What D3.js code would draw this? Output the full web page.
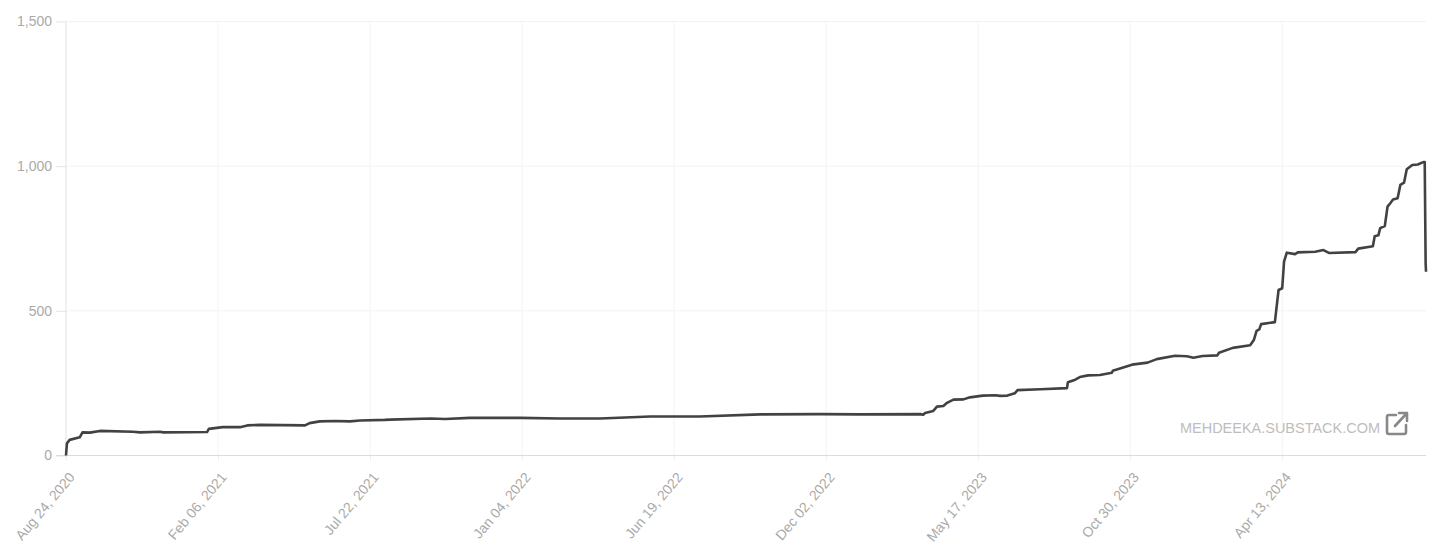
<!DOCTYPE html>
<html>
<head>
<meta charset="utf-8">
<script src="https://cdn.jsdelivr.net/npm/d3@7"></script>
<style>html,body{margin:0;padding:0;background:#fff;overflow:hidden}svg{display:block}text{font-family:"Liberation Sans",Arial,sans-serif}</style>
</head>
<body>
<svg id="chart" width="1448" height="556"></svg>
<script>
const startDate = "2020-08-24";
const dayOffsets = [0,1,4,15,18,26,37,73,81,103,106,154,156,171,190,198,212,261,266,277,294,310,321,348,354,398,414,441,496,539,583,638,692,758,823,867,933,936,938,947,951,958,962,969,980,987,1001,1015,1020,1028,1036,1039,1064,1093,1094,1102,1107,1116,1129,1142,1143,1164,1181,1191,1211,1224,1231,1241,1257,1259,1274,1293,1297,1300,1303,1305,1320,1324,1328,1330,1333,1342,1345,1364,1373,1379,1408,1411,1427,1429,1433,1435,1440,1443,1446,1449,1454,1457,1461,1464,1470,1476,1482,1483.6,1484.6,1485];
const values = [0,42,54,63,80,79,85,82,80,82,80,81,92,98,98,104,106,104,112,118,119,118,121,123,124,128,126,130,130,128,128,135,135,142,143,142,143,141,147,154,169,171,182,193,194,201,207,208,206,207,215,226,229,233,253,262,271,277,278,286,293,314,321,333,345,343,338,344,346,355,372,381,399,431,436,454,461,572,578,670,701,696,702,704,710,700,703,715,723,758,761,786,793,860,872,885,889,935,943,989,1004,1006,1014,1014,665,635];
const xTickDates = ["2020-08-24","2021-02-06","2021-07-22","2022-01-04","2022-06-19","2022-12-02","2023-05-17","2023-10-30","2024-04-13"];
const yTicks = [0,500,1000,1500];
const watermark = "MEHDEEKA.SUBSTACK.COM";

const svg = d3.select("#chart");
const parse = d3.utcParse("%Y-%m-%d");
const fmt = d3.utcFormat("%b %d, %Y");
const t0 = parse(startDate);
const dates = dayOffsets.map(d => new Date(+t0 + d * 864e5));
const x = d3.scaleUtc().domain([t0, dates[dates.length-1]]).range([66, 1426]);
const y = d3.scaleLinear().domain([0,1500]).range([455.5, 21.5]);

const yAxis = svg.append("g").attr("transform","translate(66,0)")
  .call(d3.axisLeft(y).tickValues(yTicks).tickSize(10).tickPadding(4).tickFormat(d3.format(",")));
yAxis.select(".domain").remove();
yAxis.selectAll(".tick line").attr("stroke","#e4e4e4");
yAxis.selectAll("text").attr("fill","#aaa").attr("font-size",14).style("font-family",'"Liberation Sans",Arial,sans-serif');
svg.append("g").selectAll("line").data(yTicks.filter(d=>d>0)).join("line")
  .attr("x1",66).attr("x2",1426).attr("y1",d=>y(d)).attr("y2",d=>y(d)).attr("stroke","#f3f3f3");

const tickDates = xTickDates.map(parse);
const xAxis = svg.append("g").attr("transform","translate(0,455.5)")
  .call(d3.axisBottom(x).tickValues(tickDates).tickSize(5).tickFormat(fmt));
xAxis.select(".domain").remove();
xAxis.selectAll(".tick line").attr("stroke","#eee");
xAxis.selectAll(".tick text").attr("fill","#aaa").attr("font-size",14)
  .style("font-family",'"Liberation Sans",Arial,sans-serif')
  .attr("text-anchor","end").attr("dx",0).attr("dy",0).attr("y",0).attr("x",0)
  .attr("transform","translate(9,22) rotate(-50)");
svg.append("g").selectAll("line").data(tickDates).join("line")
  .attr("x1",d=>x(d)).attr("x2",d=>x(d)).attr("y1",21.5).attr("y2",455.5)
  .attr("stroke",(d,i)=>i===0?"#e2e2e2":"#f3f3f3");
svg.append("line").attr("x1",56).attr("x2",1426).attr("y1",y(0)).attr("y2",y(0)).attr("stroke","#dcdcdc");

const line = d3.line().x((d,i)=>x(dates[i])).y(d=>y(d)).curve(d3.curveLinear);
svg.append("path").datum(values).attr("d",line).attr("fill","none")
  .attr("stroke","#424242").attr("stroke-width",2.6).attr("stroke-linejoin","round");

svg.append("text").attr("x",1180).attr("y",433).attr("fill","#bdbdbd").attr("font-size",14.5)
  .attr("textLength",200).attr("lengthAdjust","spacingAndGlyphs").text(watermark);
const icon = svg.append("g").attr("transform","translate(1386,411)").attr("fill","none")
  .attr("stroke","#888").attr("stroke-width",2.6).attr("stroke-linecap","round").attr("stroke-linejoin","round");
icon.append("path").attr("d","M10 4 H3 Q1 4 1 6 V21 Q1 23 3 23 H18 Q20 23 20 21 V14");
icon.append("path").attr("d","M9 15 L21 2 M13 2 H21 V10");
</script>
</body>
</html>
